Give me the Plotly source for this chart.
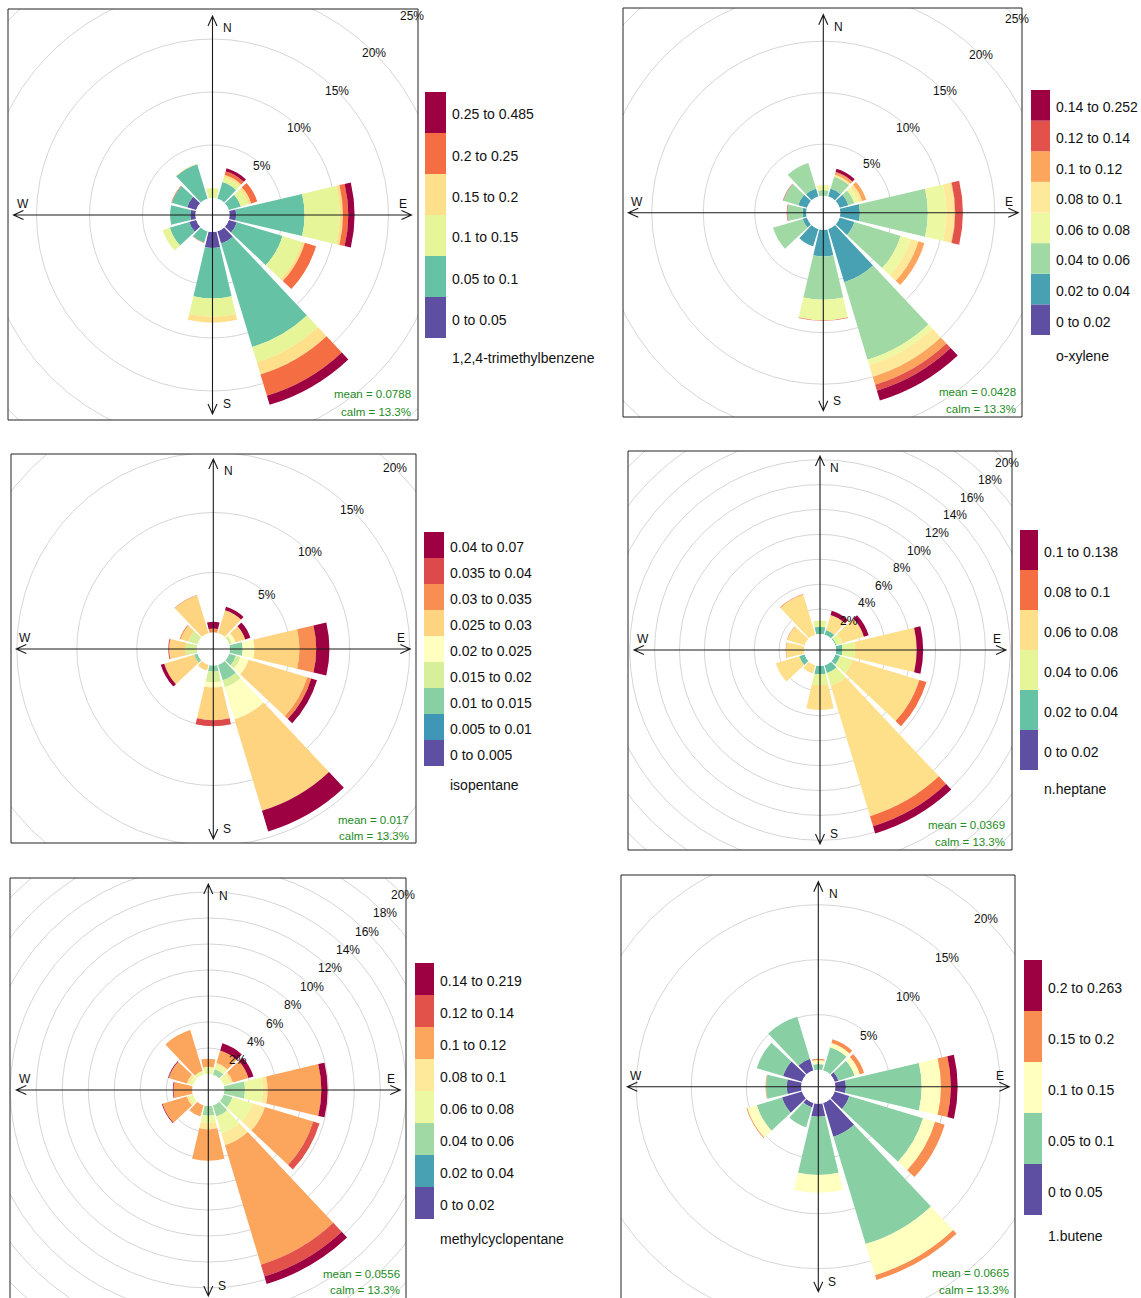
import numpy as np
import plotly.graph_objects as go

W, H = 1141, 1298
directions = [0, 30, 60, 90, 120, 150, 180, 210, 240, 270, 300, 330]

# cumulative frequency (%) at the top of each concentration bin, per wind direction
tmb_cum = [
    [0, 0, 0.95, 0.95, 0.95, 0.95],
    [0, 1.65, 2.1, 2.35, 2.7, 3.0],
    [0, 1.2, 1.9, 2.2, 2.8, 2.8],
    [0.63, 7.08, 10.4, 10.7, 11.2, 11.8],
    [0.8, 5.3, 7.2, 7.5, 8.6, 8.6],
    [1.2, 11.4, 12.9, 14.1, 16.2, 17.1],
    [1.5, 6.26, 8.0, 8.55, 8.55, 8.55],
    [0, 1.1, 1.1, 1.1, 1.15, 1.15],
    [0.7, 2.6, 3.3, 3.3, 3.3, 3.3],
    [0.5, 2.4, 2.4, 2.4, 2.4, 2.4],
    [0.9, 2.4, 2.4, 2.4, 2.45, 2.45],
    [0, 3.4, 3.4, 3.45, 3.45, 3.45],
]
oxy_cum = [
    [0, 0, 0.55, 1.04, 1.04, 1.04, 1.04, 1.04],
    [0, 0.8, 2.0, 2.0, 2.2, 2.45, 2.5, 2.8],
    [0, 0.9, 1.5, 1.9, 2.3, 2.7, 2.7, 2.7],
    [0, 1.9, 8.5, 10.3, 11.1, 11.15, 11.9, 11.9],
    [0, 1.5, 6.2, 7.2, 8.0, 8.6, 8.6, 8.6],
    [0, 5.4, 13.25, 13.8, 15.0, 15.8, 16.4, 17.4],
    [0, 2.6, 6.8, 8.8, 8.8, 8.8, 8.85, 8.85],
    [0, 1.75, 1.75, 1.75, 1.75, 1.75, 1.75, 1.75],
    [0, 0.45, 3.45, 3.45, 3.45, 3.45, 3.45, 3.45],
    [0, 0.36, 1.84, 1.84, 1.84, 1.84, 1.9, 1.9],
    [0, 0.9, 2.4, 2.4, 2.4, 2.4, 2.45, 2.45],
    [0, 0.8, 3.4, 3.4, 3.4, 3.4, 3.4, 3.4],
]
isop_cum = [
    [0, 0, 0, 0, 0, 0, 0.33, 0.33, 0.9],
    [0, 0, 0, 0, 0, 2.0, 2.0, 2.0, 2.3],
    [0, 0, 0, 0.25, 0.55, 1.4, 1.4, 1.4, 1.85],
    [0, 0, 1.08, 1.08, 2.05, 5.8, 7.2, 7.2, 8.3],
    [0, 0, 0.6, 1.0, 1.7, 6.8, 7.15, 7.15, 7.65],
    [0, 0, 1.35, 1.95, 4.75, 12.7, 12.7, 12.7, 14.5],
    [0, 0, 0.5, 1.4, 1.83, 4.56, 4.56, 5.06, 5.06],
    [0, 0, 0, 0, 0, 0.5, 0.5, 0.5, 0.5],
    [0, 0, 0.3, 0.3, 0.3, 2.9, 2.9, 2.9, 3.2],
    [0, 0, 0, 0.94, 0.94, 2.3, 2.3, 2.38, 2.38],
    [0, 0, 0, 0.8, 0.8, 1.45, 1.55, 1.55, 1.55],
    [0, 0, 0, 0, 0, 3.3, 3.3, 3.32, 3.32],
]
hept_cum = [
    [0, 0.59, 1.08, 1.08, 1.08, 1.08],
    [0, 0.4, 0.4, 1.65, 1.65, 2.0],
    [0, 0.1, 0.6, 2.4, 2.4, 2.8],
    [0, 0.52, 1.53, 6.48, 6.48, 7.0],
    [0, 0.4, 1.45, 7.05, 7.65, 7.65],
    [0, 0.65, 1.7, 12.65, 13.5, 14.1],
    [0, 0.67, 1.55, 3.53, 3.53, 3.53],
    [0, 0, 0, 0.7, 0.7, 0.7],
    [0, 0.46, 0.46, 2.42, 2.42, 2.42],
    [0, 0, 0, 1.45, 1.48, 1.48],
    [0, 0, 0, 1.47, 1.5, 1.5],
    [0, 0, 0, 3.38, 3.42, 3.42],
]
mcp_cum = [
    [0, 0, 0, 0.55, 0.55, 1.17, 1.17, 1.17],
    [0, 0, 0.45, 0.8, 0.95, 1.95, 1.95, 2.53],
    [0, 0, 0, 0.5, 0.75, 2.0, 2.0, 2.4],
    [0, 0, 1.59, 2.95, 3.34, 7.46, 7.46, 7.95],
    [0, 0, 0.72, 2.3, 3.32, 7.2, 7.7, 7.7],
    [0, 0, 0.9, 2.25, 3.2, 12.8, 13.75, 14.35],
    [0, 0, 0.75, 1.3, 1.8, 4.2, 4.2, 4.2],
    [0, 0, 0, 0, 0, 0.9, 0.9, 0.9],
    [0, 0, 0, 0.3, 0.5, 2.45, 2.45, 2.5],
    [0, 0, 0, 0, 0, 1.45, 1.45, 1.5],
    [0, 0, 0, 0.25, 0.5, 1.95, 1.95, 2.0],
    [0, 0, 0, 0.3, 0.3, 3.58, 3.58, 3.58],
]
but_cum = [
    [0, 0.52, 0.88, 1.0, 1.0],
    [0, 2.2, 2.6, 2.95, 2.95],
    [0.37, 1.9, 2.4, 2.8, 2.8],
    [0.97, 7.85, 9.6, 10.5, 11.12],
    [1.4, 8.4, 9.55, 10.45, 10.45],
    [3.2, 13.4, 16.35, 16.8, 16.8],
    [1.18, 6.48, 8.1, 8.1, 8.1],
    [0.43, 2.3, 2.3, 2.3, 2.3],
    [1.9, 4.3, 5.2, 5.28, 5.28],
    [1.33, 3.2, 3.2, 3.25, 3.25],
    [1.8, 4.3, 4.3, 4.3, 4.3],
    [1.1, 5.1, 5.1, 5.1, 5.1],
]

tmb_bins = ["0 to 0.05", "0.05 to 0.1", "0.1 to 0.15", "0.15 to 0.2", "0.2 to 0.25", "0.25 to 0.485"]
oxy_bins = ["0 to 0.02", "0.02 to 0.04", "0.04 to 0.06", "0.06 to 0.08", "0.08 to 0.1",
            "0.1 to 0.12", "0.12 to 0.14", "0.14 to 0.252"]
isop_bins = ["0 to 0.005", "0.005 to 0.01", "0.01 to 0.015", "0.015 to 0.02", "0.02 to 0.025",
             "0.025 to 0.03", "0.03 to 0.035", "0.035 to 0.04", "0.04 to 0.07"]
hept_bins = ["0 to 0.02", "0.02 to 0.04", "0.04 to 0.06", "0.06 to 0.08", "0.08 to 0.1", "0.1 to 0.138"]
mcp_bins = ["0 to 0.02", "0.02 to 0.04", "0.04 to 0.06", "0.06 to 0.08", "0.08 to 0.1",
            "0.1 to 0.12", "0.12 to 0.14", "0.14 to 0.219"]
but_bins = ["0 to 0.05", "0.05 to 0.1", "0.1 to 0.15", "0.15 to 0.2", "0.2 to 0.263"]

names = ["1,2,4-trimethylbenzene", "o-xylene", "isopentane", "n.heptane", "methylcyclopentane", "1.butene"]
means = ["0.0788", "0.0428", "0.017", "0.0369", "0.0556", "0.0665"]
calms = ["13.3%", "13.3%", "13.3%", "13.3%", "13.3%", "13.3%"]
tick_sets = [[5, 10, 15, 20, 25], [5, 10, 15, 20, 25], [5, 10, 15, 20],
             [2, 4, 6, 8, 10, 12, 14, 16, 18, 20], [2, 4, 6, 8, 10, 12, 14, 16, 18, 20], [5, 10, 15, 20]]

cums = [tmb_cum, oxy_cum, isop_cum, hept_cum, mcp_cum, but_cum]
bins = [tmb_bins, oxy_bins, isop_bins, hept_bins, mcp_bins, but_bins]

# ---- layout geometry (pixels) ----
geoms = [
    dict(box=(8, 9, 418, 420), c=(212.5, 215), hole=17, pxpp=10.6, gstep=5, ns=199, ew=199,
         leg=(425, 446, 92, 338), name_y=358, stat_x=413, mean_y=394, calm_y=412),
    dict(box=(623, 8, 1022, 417), c=(823.3, 212.7), hole=17, pxpp=10.3, gstep=5, ns=198, ew=195,
         leg=(1031, 1050, 90, 335), name_y=356, stat_x=1018, mean_y=392, calm_y=409),
    dict(box=(11, 454, 416, 843), c=(213.3, 649), hole=16.5, pxpp=12.0, gstep=5, ns=190, ew=197,
         leg=(424, 444, 532, 766), name_y=785, stat_x=411, mean_y=820, calm_y=836),
    dict(box=(628, 451, 1012, 850), c=(820, 650), hole=16, pxpp=12.45, gstep=2, ns=194, ew=186,
         leg=(1020, 1038, 530, 770), name_y=789, stat_x=1007, mean_y=825, calm_y=842),
    dict(box=(10, 878, 406, 1330), c=(208.3, 1090), hole=16, pxpp=13.0, gstep=2, ns=206, ew=192,
         leg=(415, 434, 963, 1219), name_y=1239, stat_x=402, mean_y=1274, calm_y=1290),
    dict(box=(621, 875, 1015, 1330), c=(818.3, 1086.7), hole=17, pxpp=11.0, gstep=5, ns=205, ew=191,
         leg=(1024, 1042, 960, 1215), name_y=1236, stat_x=1011, mean_y=1273, calm_y=1290),
]

SPECTRAL = ["#5E4FA2", "#3288BD", "#66C2A5", "#ABDDA4", "#E6F598", "#FFFFBF",
            "#FEE08B", "#FDAE61", "#F46D43", "#D53E4F", "#9E0142"]


def ramp(n):
    rgb = np.array([[int(c[i:i + 2], 16) for i in (1, 3, 5)] for c in SPECTRAL], float)
    out = []
    for p in np.linspace(0, 10, n):
        i = int(np.floor(p + 1e-9))
        f = p - i
        col = rgb[10] if i >= 10 else rgb[i] * (1 - f) + rgb[i + 1] * f
        out.append('rgb(%d,%d,%d)' % tuple(np.round(col)))
    return out


def px(x):
    return x / W


def py(y):
    return 1 - y / H


FONT = "Liberation Sans, Arial, Helvetica, sans-serif"
R = 205
fig = go.Figure()
shapes = []
annotations = []
layout = {}

for k in range(6):
    g = geoms[k]
    cum = np.array(cums[k], float)
    inc = np.diff(np.hstack([np.zeros((cum.shape[0], 1)), cum]), axis=1)
    n = cum.shape[1]
    cols = ramp(n)
    cx, cy = g['c']
    pname = 'polar' if k == 0 else 'polar%d' % (k + 1)
    sfx = '' if k == 0 else str(k + 1)
    for j in range(n):
        fig.add_trace(go.Barpolar(
            r=inc[:, j], theta=directions, width=26.5, subplot=pname,
            marker=dict(color=cols[j], line=dict(width=0)),
            name=bins[k][j], showlegend=False, hoverinfo='skip'))
    rmax = (R - g['hole']) / g['pxpp']
    layout[pname] = dict(
        domain=dict(x=[max(0, px(cx - R)), min(1, px(cx + R))],
                    y=[max(0, py(cy + R)), min(1, py(cy - R))]),
        hole=g['hole'] / R, bgcolor='rgba(0,0,0,0)', barmode='stack', bargap=0,
        radialaxis=dict(range=[0, rmax], visible=False),
        angularaxis=dict(rotation=90, direction='clockwise', visible=False))

    # cartesian overlay for grid circles, compass and labels (pixel units)
    x0, y0, x1, y1 = g['box']
    yb = min(y1, H)
    xa, ya = 'x' + sfx, 'y' + sfx
    layout['xaxis' + sfx] = dict(domain=[px(x0), px(x1)], range=[x0 - cx, x1 - cx],
                                 visible=False, fixedrange=True, anchor=ya)
    layout['yaxis' + sfx] = dict(domain=[py(yb), py(y0)], range=[cy - yb, cy - y0],
                                 visible=False, fixedrange=True, anchor=xa)
    fig.add_trace(go.Scatter(x=[0], y=[0], xaxis=xa, yaxis=ya, mode='markers',
                             marker=dict(opacity=0), hoverinfo='skip', showlegend=False))
    for v in np.arange(g['gstep'], 32, g['gstep']):
        rr = g['hole'] + g['pxpp'] * v
        shapes.append(dict(type='circle', xref=xa, yref=ya, x0=-rr, x1=rr, y0=-rr, y1=rr,
                           line=dict(color='#d6d6d6', width=1), layer='below'))
    for v in tick_sets[k]:
        rr = g['hole'] + g['pxpp'] * v
        annotations.append(dict(xref=xa, yref=ya, x=rr * 0.7071, y=rr * 0.7071, text='%d%%' % v,
                                showarrow=False, xanchor='center', yanchor='middle',
                                font=dict(family=FONT, size=12, color='#111')))
    ns, ew = g['ns'], g['ew']
    path = ('M 0,%f L 0,%f M %f,0 L %f,0 ' % (ns, -ns, -ew, ew) +
            'M -4.5,%f L 0,%f L 4.5,%f ' % (ns - 10, ns, ns - 10) +
            'M -4.5,%f L 0,%f L 4.5,%f ' % (-ns + 10, -ns, -ns + 10) +
            'M %f,4.5 L %f,0 L %f,-4.5 ' % (ew - 10, ew, ew - 10) +
            'M %f,4.5 L %f,0 L %f,-4.5' % (-ew + 10, -ew, -ew + 10))
    shapes.append(dict(type='path', xref=xa, yref=ya, path=path,
                       line=dict(color='#1a1a1a', width=1.1), layer='above'))
    for txt, xx, yy in [('N', 15, ns - 12), ('S', 14, -(ns - 10)), ('W', -(ew - 9), 11), ('E', ew - 9, 11)]:
        annotations.append(dict(xref=xa, yref=ya, x=xx, y=yy, text=txt, showarrow=False,
                                xanchor='center', yanchor='middle',
                                font=dict(family=FONT, size=12, color='#111')))
    # panel border
    shapes.append(dict(type='rect', xref='paper', yref='paper', x0=px(x0), x1=px(x1),
                       y0=py(y1), y1=py(y0), line=dict(color='#222', width=1), layer='above'))
    # stats text
    annotations.append(dict(xref='paper', yref='paper', x=px(g['stat_x']), y=py(g['mean_y']),
                            xanchor='right', yanchor='middle', text='mean = ' + means[k], showarrow=False,
                            font=dict(family=FONT, size=11.5, color='forestgreen')))
    annotations.append(dict(xref='paper', yref='paper', x=px(g['stat_x']), y=py(g['calm_y']),
                            xanchor='right', yanchor='middle', text='calm = ' + calms[k], showarrow=False,
                            font=dict(family=FONT, size=11.5, color='forestgreen')))
    # legend key
    lx0, lx1, ly0, ly1 = g['leg']
    h = (ly1 - ly0) / n
    for j in range(n):
        yb0 = ly1 - j * h
        shapes.append(dict(type='rect', xref='paper', yref='paper', x0=px(lx0), x1=px(lx1),
                           y0=py(yb0), y1=py(yb0 - h), fillcolor=cols[j],
                           line=dict(width=0), layer='above'))
        annotations.append(dict(xref='paper', yref='paper', x=px(lx1 + 4), y=py(yb0 - h / 2 + 2),
                                xanchor='left', yanchor='middle', text=bins[k][j], showarrow=False,
                                font=dict(family=FONT, size=14, color='#111')))
    annotations.append(dict(xref='paper', yref='paper', x=px(lx1 + 4), y=py(g['name_y']),
                            xanchor='left', yanchor='middle', text=names[k], showarrow=False,
                            font=dict(family=FONT, size=14, color='#111')))

fig.update_layout(width=W, height=H, margin=dict(l=0, r=0, t=0, b=0),
                  paper_bgcolor='white', plot_bgcolor='white', showlegend=False,
                  shapes=shapes, annotations=annotations, **layout)
fig.write_html("out.html")
